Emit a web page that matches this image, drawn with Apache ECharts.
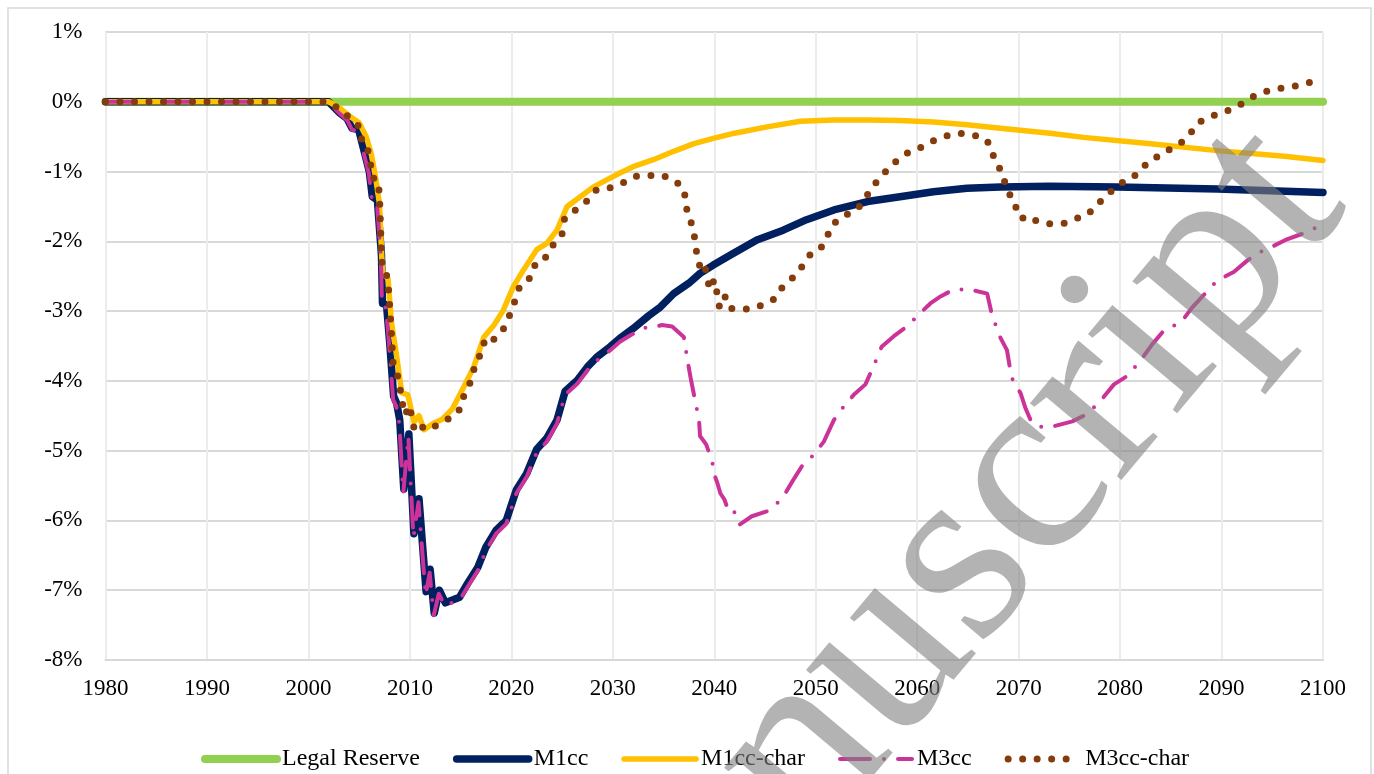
<!DOCTYPE html>
<html><head><meta charset="utf-8">
<script src="https://cdn.jsdelivr.net/npm/echarts@6/dist/echarts.min.js"></script>
<style>html,body{margin:0;padding:0;background:#fff}#c{width:1374px;height:774px}</style>
</head><body><div id="c"></div>
<script>
const seriesNames = ['Legal Reserve', 'M1cc', 'M1cc-char', 'M3cc', 'M3cc-char'];
const xTicks = [1980, 2100, 10];
const yTicks = [-8, 1, 1];

const legalReserve = [[1980,0],[2100,0]];

const m1cc = [[1980,0],[2002,0],[2003,-0.15],[2003.8,-0.24],[2004.3,-0.38],[2004.95,-0.4],[2005.6,-0.77],[2006.0,-1.0],[2006.3,-1.36],[2006.8,-1.41],[2007.2,-2.2],[2007.3,-2.89],[2007.7,-2.91],[2008.0,-3.43],[2008.4,-4.22],[2008.7,-4.32],[2009.0,-4.56],[2009.4,-5.55],[2009.9,-4.76],[2010.4,-6.19],[2010.9,-5.69],[2011.6,-7.02],[2012.0,-6.7],[2012.4,-7.33],[2012.9,-7.0],[2013.5,-7.18],[2014.9,-7.1],[2015.7,-6.9],[2016.7,-6.67],[2017.5,-6.38],[2018.5,-6.14],[2019.5,-6.0],[2020.5,-5.56],[2021.5,-5.33],[2022.5,-4.98],[2023.5,-4.82],[2024.5,-4.56],[2025.3,-4.15],[2026.5,-3.99],[2027.5,-3.8],[2028.5,-3.65],[2029.75,-3.51],[2030.7,-3.39],[2032,-3.25],[2033.5,-3.07],[2034.7,-2.94],[2036,-2.75],[2037.5,-2.6],[2038.6,-2.46],[2039.9,-2.34],[2041.9,-2.17],[2044.2,-1.98],[2046.8,-1.84],[2049.1,-1.69],[2051.8,-1.55],[2055.1,-1.43],[2058.3,-1.36],[2061.6,-1.29],[2064.9,-1.24],[2068.2,-1.22],[2073,-1.21],[2079.7,-1.22],[2089.6,-1.25],[2100,-1.3]];

const m1ccChar = [[1980,0],[2002,0],[2003,-0.08],[2004,-0.2],[2005,-0.3],[2005.7,-0.5],[2006.2,-0.75],[2006.65,-1.11],[2007.0,-1.46],[2007.3,-2.44],[2007.85,-2.54],[2008.2,-3.18],[2008.6,-3.55],[2009.2,-4.17],[2009.8,-4.2],[2010.4,-4.59],[2010.9,-4.5],[2011.4,-4.7],[2012.3,-4.61],[2013.2,-4.55],[2014.2,-4.4],[2015.3,-4.09],[2016.3,-3.8],[2017.3,-3.37],[2018.3,-3.2],[2019.2,-2.99],[2020.2,-2.65],[2021.2,-2.41],[2022.5,-2.12],[2023.5,-2.03],[2024.5,-1.84],[2025.5,-1.5],[2026.8,-1.36],[2028.1,-1.22],[2029.4,-1.12],[2030.7,-1.02],[2032,-0.93],[2034,-0.83],[2036,-0.71],[2038,-0.6],[2040,-0.52],[2042,-0.45],[2045.2,-0.36],[2048.5,-0.28],[2051.8,-0.26],[2055.1,-0.26],[2058.3,-0.27],[2061.6,-0.29],[2064.9,-0.33],[2068.2,-0.38],[2073.1,-0.45],[2076.4,-0.51],[2083,-0.6],[2089.6,-0.7],[2096.2,-0.78],[2100,-0.84]];

const m3cc = [[1980,0],[2002,0],[2003,-0.16],[2003.8,-0.26],[2004.3,-0.4],[2004.95,-0.42],[2005.55,-0.8],[2005.95,-1.02],[2006.25,-1.4],[2006.75,-1.44],[2007.15,-2.25],[2007.25,-2.93],[2007.65,-2.95],[2007.95,-3.47],[2008.35,-4.27],[2008.65,-4.36],[2008.95,-4.6],[2009.35,-5.6],[2009.85,-4.8],[2010.35,-6.24],[2010.85,-5.74],[2011.55,-7.07],[2011.95,-6.75],[2012.35,-7.36],[2012.85,-7.05],[2013.45,-7.22],[2014.9,-7.14],[2015.7,-6.95],[2016.7,-6.72],[2017.5,-6.43],[2018.5,-6.19],[2019.5,-6.05],[2020.5,-5.61],[2021.5,-5.38],[2022.5,-5.03],[2023.5,-4.87],[2024.5,-4.61],[2025.3,-4.2],[2026.5,-4.04],[2027.5,-3.85],[2028.5,-3.7],[2029.75,-3.56],[2030.7,-3.44],[2031.7,-3.35],[2033.05,-3.24],[2034,-3.23],[2034.85,-3.2],[2035.85,-3.22],[2037.0,-3.37],[2037.3,-3.65],[2037.7,-3.98],[2038.1,-4.27],[2038.5,-4.56],[2038.6,-4.79],[2039.2,-4.91],[2039.8,-5.15],[2039.95,-5.32],[2040.3,-5.46],[2040.6,-5.61],[2041.0,-5.7],[2041.3,-5.82],[2041.75,-5.8],[2042.1,-5.92],[2042.5,-6.06],[2043.7,-5.94],[2045.2,-5.87],[2045.9,-5.8],[2046.85,-5.65],[2047.7,-5.44],[2048.65,-5.22],[2049.8,-5.06],[2050.8,-4.87],[2051.8,-4.56],[2052.75,-4.37],[2053.75,-4.2],[2054.9,-4.05],[2055.7,-3.79],[2056.5,-3.51],[2057.7,-3.36],[2059.0,-3.22],[2060.15,-3.05],[2061.3,-2.89],[2062.3,-2.79],[2063.6,-2.69],[2065.2,-2.69],[2066.9,-2.75],[2067.4,-3.07],[2068.2,-3.38],[2068.85,-3.56],[2069.3,-3.95],[2070.2,-4.18],[2070.7,-4.4],[2071.3,-4.6],[2072.3,-4.66],[2073.45,-4.65],[2075.3,-4.58],[2076.7,-4.48],[2078.05,-4.29],[2079.4,-4.05],[2080.7,-3.93],[2082.0,-3.71],[2083.2,-3.47],[2084.3,-3.28],[2086.0,-3.16],[2087.1,-2.95],[2088.3,-2.76],[2089.6,-2.56],[2091.2,-2.44],[2092.5,-2.28],[2093.7,-2.16],[2094.8,-2.09],[2096.3,-1.98],[2098.0,-1.89],[2100,-1.76]];

const m3ccChar = [[1980,0],[2002,0],[2003,-0.1],[2004,-0.22],[2005.1,-0.37],[2005.3,-0.6],[2005.8,-0.65],[2006.1,-0.87],[2006.3,-1.09],[2006.8,-1.11],[2007.0,-1.31],[2007.1,-1.75],[2007.2,-2.2],[2007.3,-2.39],[2007.7,-2.48],[2007.9,-2.69],[2008.1,-3.12],[2008.35,-3.75],[2008.7,-3.87],[2009.0,-4.07],[2009.2,-4.29],[2009.55,-4.49],[2009.9,-4.35],[2010.1,-4.46],[2010.4,-4.67],[2010.8,-4.59],[2011.5,-4.7],[2012.6,-4.64],[2013.4,-4.57],[2014.2,-4.52],[2014.9,-4.41],[2015.2,-4.25],[2015.8,-4.09],[2016.2,-3.89],[2016.6,-3.69],[2017.1,-3.61],[2017.4,-3.39],[2018.2,-3.42],[2018.65,-3.33],[2019.2,-3.26],[2019.7,-3.1],[2020.2,-2.94],[2020.55,-2.72],[2021.15,-2.59],[2021.9,-2.52],[2022.4,-2.31],[2023.1,-2.28],[2023.7,-2.17],[2024.2,-2.03],[2025.0,-1.89],[2025.25,-1.67],[2026.1,-1.57],[2026.8,-1.51],[2027.6,-1.4],[2028.4,-1.26],[2029.6,-1.24],[2030.9,-1.17],[2032.1,-1.07],[2033.4,-1.06],[2034.8,-1.05],[2036.0,-1.12],[2037.0,-1.24],[2037.2,-1.44],[2037.4,-1.65],[2037.9,-1.78],[2038.1,-1.99],[2038.3,-2.2],[2038.6,-2.37],[2039.0,-2.31],[2039.3,-2.51],[2039.55,-2.69],[2040.0,-2.55],[2040.3,-2.76],[2040.5,-2.93],[2041.0,-2.77],[2041.5,-2.96],[2042.25,-2.97],[2043.6,-2.97],[2044.8,-2.91],[2045.8,-2.84],[2046.5,-2.69],[2047.3,-2.58],[2048.1,-2.47],[2048.7,-2.35],[2049.5,-2.18],[2050.3,-2.13],[2051.0,-2.0],[2051.45,-1.8],[2052.2,-1.69],[2053.15,-1.61],[2054.0,-1.55],[2054.7,-1.43],[2055.4,-1.26],[2056.1,-1.13],[2056.9,-1.0],[2057.6,-0.89],[2058.5,-0.79],[2059.4,-0.7],[2060.5,-0.65],[2061.6,-0.56],[2062.9,-0.49],[2064.2,-0.45],[2065.6,-0.48],[2066.9,-0.55],[2067.4,-0.75],[2068.0,-0.87],[2068.3,-1.08],[2068.85,-1.19],[2069.25,-1.39],[2069.6,-1.51],[2070.1,-1.52],[2070.5,-1.7],[2071.2,-1.7],[2072.0,-1.7],[2073.1,-1.75],[2074.5,-1.74],[2075.7,-1.67],[2076.7,-1.63],[2077.6,-1.5],[2078.5,-1.36],[2079.4,-1.25],[2080.4,-1.14],[2081.3,-1.08],[2082.2,-0.95],[2083.0,-0.83],[2084.0,-0.77],[2085.0,-0.67],[2086.0,-0.59],[2086.9,-0.46],[2087.7,-0.3],[2088.65,-0.23],[2089.7,-0.17],[2090.95,-0.11],[2092.1,-0.02],[2093.2,0.08],[2094.4,0.15],[2095.75,0.19],[2097.1,0.22],[2098.45,0.27],[2100,0.31]];

const seriesData = [legalReserve, m1cc, m1ccChar, m3cc, m3ccChar];
const colors = ['#92D050', '#002060', '#FFC000', '#CC3399', '#843C0C'];
const widths = [8, 7.5, 5.5, 4, 7];
const dashes = ['solid', 'solid', 'solid', [30, 14, 0, 14], [0, 14.5]];

const FONT = '"Liberation Serif", "Times New Roman", serif';
const chart = echarts.init(document.getElementById('c'), null, {renderer: 'canvas'});
chart.setOption({
  animation: false,
  backgroundColor: '#fff',
  textStyle: {fontFamily: FONT},
  grid: {left: 105.5, right: 51, top: 32, bottom: 114, containLabel: false},
  xAxis: {
    type: 'value', min: xTicks[0], max: xTicks[1], interval: xTicks[2],
    axisLine: {show: true, onZero: false, lineStyle: {color: '#d9d9d9', width: 2}},
    axisTick: {show: false},
    splitLine: {show: true, lineStyle: {color: '#ececec', width: 2}},
    axisLabel: {color: '#000', fontSize: 23, fontFamily: FONT, margin: 17, formatter: v => String(v)}
  },
  yAxis: {
    type: 'value', min: yTicks[0], max: yTicks[1], interval: yTicks[2],
    axisLine: {show: false}, axisTick: {show: false},
    splitLine: {show: true, lineStyle: {color: '#d9d9d9', width: 2}},
    axisLabel: {color: '#000', fontSize: 23, fontFamily: FONT, margin: 23, formatter: '{value}%'}
  },
  legend: {
    left: 201, top: 747, padding: 0, itemWidth: 72, itemHeight: 14, itemGap: 33,
    textStyle: {fontSize: 24, fontFamily: FONT, color: '#000'},
    data: seriesNames,
    itemStyle: {opacity: 0, borderWidth: 0},
    lineStyle: {width: 'inherit', type: 'inherit', cap: 'round'}
  },
  series: seriesNames.map((n, i) => ({
    name: n, type: 'line', data: seriesData[i], symbol: 'none', showSymbol: false,
    z: 2 + i,
    lineStyle: {color: colors[i], width: widths[i], type: dashes[i], cap: 'round', join: 'round'},
    itemStyle: {color: colors[i]}
  })),
  graphic: [
    {type: 'rect', silent: true, z: 0, shape: {x: 8, y: 8, width: 1363, height: 800},
     style: {fill: 'none', stroke: '#d9d9d9', lineWidth: 1.5}},
    {type: 'text', silent: true, z: 100, x: 437, y: 987, rotation: 50 * Math.PI / 180,
     style: {text: 'Manuscript', font: '260px "Liberation Serif"', fill: 'rgba(128,128,128,0.6)', textBaseline: 'alphabetic', textAlign: 'left'}}
  ]
});
</script></body></html>
